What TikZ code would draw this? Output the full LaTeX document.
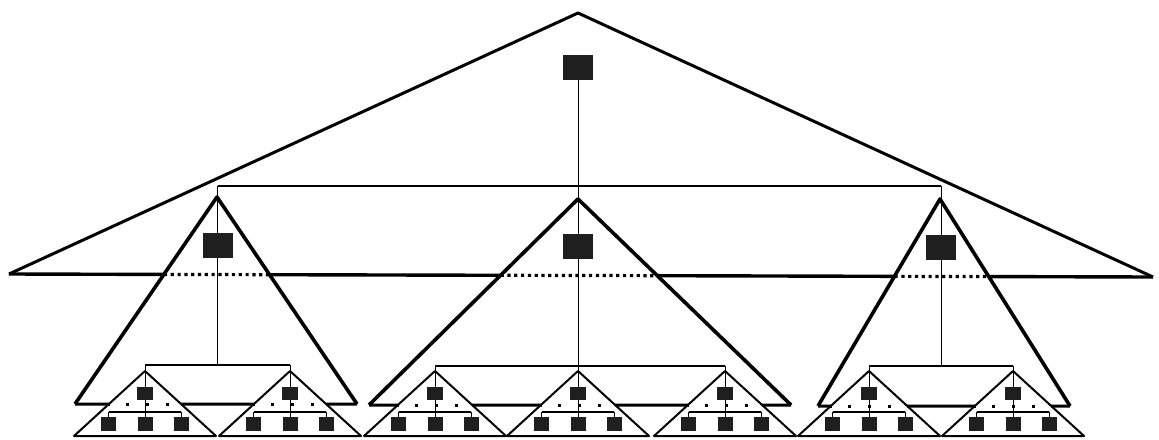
\documentclass[tikz,border=0pt]{standalone}
\begin{document}
\begin{tikzpicture}[x=0.5pt,y=-0.5pt,
  sq/.style={fill=black!88,inner sep=0pt,minimum width=15pt,minimum height=12.5pt},
  ssq/.style={fill=black!88,inner sep=0pt,minimum width=8pt,minimum height=6.5pt},
  bsq/.style={fill=black!88,inner sep=0pt,minimum width=7.5pt,minimum height=7pt},
  bigtri/.style={line width=1.5pt,line join=round},
  bigbase/.style={line width=1.7pt},
  midtri/.style={line width=1.8pt,line join=round},
  midbase/.style={line width=1.5pt},
  smalltri/.style={line width=1pt,line join=round},
  bar/.style={line width=1.1pt},
  link/.style={line width=0.5pt},
  dotline/.style={line width=1.6pt,dash pattern=on 1.6pt off 1.8pt},
  sdots/.style={line width=1.5pt,dash pattern=on 1.5pt off 8.5pt,dash phase=1.45pt}]
\useasboundingbox (0,0) rectangle (1159,439);

% big triangle
\coordinate (BA) at (578,13);
\coordinate (BL) at (9,274);
\coordinate (BR) at (1153,277);
\draw[bigtri] (BL) -- (BA) -- (BR);

% mid triangles
\coordinate (M1a) at (217,197);
\coordinate (M1l) at (75,404);
\coordinate (M1r) at (357,404);
\coordinate (M2a) at (578,199);
\coordinate (M2l) at (369,405);
\coordinate (M2r) at (791,405);
\coordinate (M3a) at (940,199);
\coordinate (M3l) at (818,406);
\coordinate (M3r) at (1070,406);
\foreach \k in {1,2,3} {
  \draw[midtri] (M\k l) -- (M\k a) -- (M\k r);
  \coordinate (X\k l) at (intersection of M\k a--M\k l and BL--BR);
  \coordinate (X\k r) at (intersection of M\k a--M\k r and BL--BR);
  \draw[dotline] (X\k l) -- (X\k r);
}
\draw[bigbase] (BL) -- (X1l) (X1r) -- (X2l) (X2r) -- (X3l) (X3r) -- (BR);

% top square and first bar
\node[sq] (r) at (578,67.5) {};
\node[sq] (m1) at (217.5,245.5) {};
\node[sq] (m2) at (578,246.5) {};
\node[sq] (m3) at (941,247.5) {};
\coordinate (T1) at (217.5,186);
\coordinate (T2) at (941,186);
\draw[bar] (T1) -- (T2);
\draw[link] (r.south) -- (m2.north);
\draw[link] (T1) -- (m1.north);
\draw[link] (T2) -- (m3.north);

% small triangles
\foreach \i/\a/\g in {1/145/1,2/290/1,3/435/2,4/578/2,5/725/2,6/869/3,7/1013/3} {
  \coordinate (S\i a) at (\a,371);
  \coordinate (S\i l) at (\a-71,436);
  \coordinate (S\i r) at (\a+71,436);
  \draw[smalltri] (S\i l) -- (S\i a) -- (S\i r) -- cycle;
  \node[ssq] (s\i) at (\a,393.5) {};
  \node[bsq] (b\i x1) at (\a-36.5,424) {};
  \node[bsq] (b\i x2) at (\a,424) {};
  \node[bsq] (b\i x3) at (\a+36,424) {};
  \coordinate (K\i l) at (\a-36.5,412);
  \coordinate (K\i r) at (\a+36,412);
  \draw[bar] (K\i l) -- (K\i r);
  \draw[link] (s\i.south) -- (s\i.south |- K\i l);
  \foreach \j in {1,2,3} \draw[link] (b\i x\j.north |- K\i l) -- (b\i x\j.north);
  \coordinate (P\i l) at (intersection of S\i a--S\i l and M\g l--M\g r);
  \coordinate (P\i r) at (intersection of S\i a--S\i r and M\g l--M\g r);
  \draw[sdots] (P\i l) -- (P\i r);
}

% mid base lines
\draw[midbase] (M1l) -- (P1l) (P1r) -- (P2l) (P2r) -- (M1r);
\draw[midbase] (M2l) -- (P3l) (P3r) -- (P4l) (P4r) -- (P5l) (P5r) -- (M2r);
\draw[midbase] (M3l) -- (P6l) (P6r) -- (P7l) (P7r) -- (M3r);

% second-level bars
\coordinate (H1l) at (145,365);
\coordinate (H1r) at (290,365);
\coordinate (H2l) at (435,366);
\coordinate (H2r) at (725,366);
\coordinate (H3l) at (869,366);
\coordinate (H3r) at (1013,366);
\foreach \k in {1,2,3} {
  \draw[bar] (H\k l) -- (H\k r);
  \draw[link] (m\k.south) -- (m\k.south |- H\k l);
}
\foreach \i/\g in {1/1,2/1,3/2,4/2,5/2,6/3,7/3}
  \draw[link] (s\i.north |- H\g l) -- (s\i.north);
\end{tikzpicture}
\end{document}
